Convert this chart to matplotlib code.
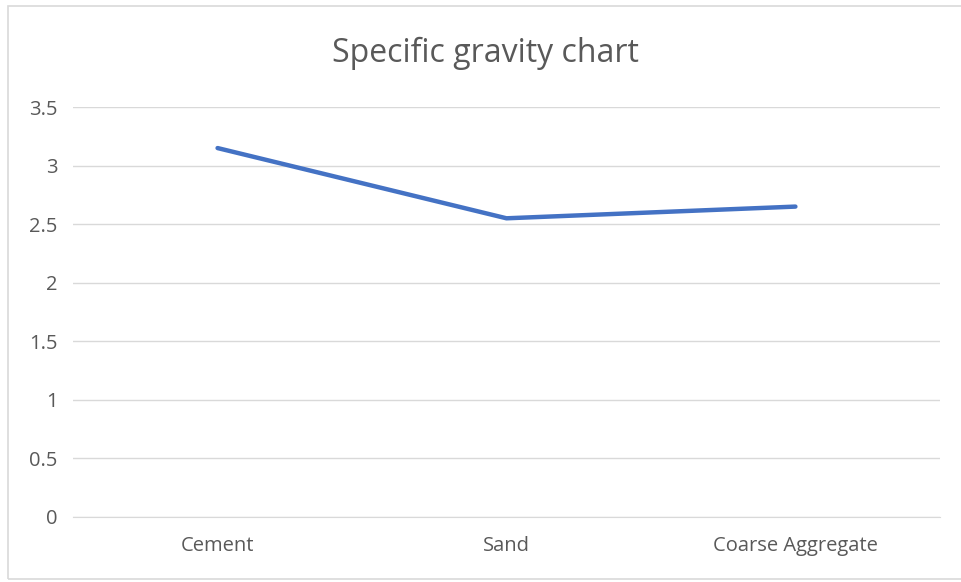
import matplotlib.pyplot as plt
from matplotlib.patches import Rectangle

# data
materials = ['Cement', 'Sand', 'Coarse Aggregate']
specific_gravity = [3.15, 2.55, 2.65]
yticks = [0, 0.5, 1, 1.5, 2, 2.5, 3, 3.5]
ytick_labels = ['0', '0.5', '1', '1.5', '2', '2.5', '3', '3.5']

plt.rcParams['font.family'] = ['Open Sans', 'DejaVu Sans']
text_col = '#595959'
grid_col = '#d9d9d9'

fig = plt.figure(figsize=(9.62, 5.82), dpi=100)
ax = fig.add_axes([0.076, 0.112, 0.901, 0.704])

# light chart border like excel (right edge is cut off in the original)
fig.patches.append(Rectangle((0.008, 0.005), 1.2, 0.985, transform=fig.transFigure,
                             fill=False, edgecolor='#d9d9d9', linewidth=1.2))

x = range(len(materials))
ax.plot(x, specific_gravity, color='#4472C4', linewidth=3.2, solid_capstyle='round')

ax.set_xlim(-0.5, len(materials) - 0.5)
ax.set_ylim(0, 3.5)
ax.set_yticks(yticks)
ax.set_yticklabels(ytick_labels)
ax.set_xticks(list(x))
ax.set_xticklabels(materials)
ax.yaxis.grid(True, color=grid_col, linewidth=1)
ax.set_axisbelow(True)
for s in ['top', 'right', 'left']:
    ax.spines[s].set_visible(False)
ax.spines['bottom'].set_color(grid_col)
ax.tick_params(axis='both', length=0, colors=text_col, labelsize=14.5)
ax.tick_params(axis='y', pad=11)
ax.tick_params(axis='x', pad=14)

fig.text(0.505, 0.8935, 'Specific gravity chart', ha='center', va='baseline',
         fontsize=23, color=text_col)

fig.savefig('out.png', dpi=100)
